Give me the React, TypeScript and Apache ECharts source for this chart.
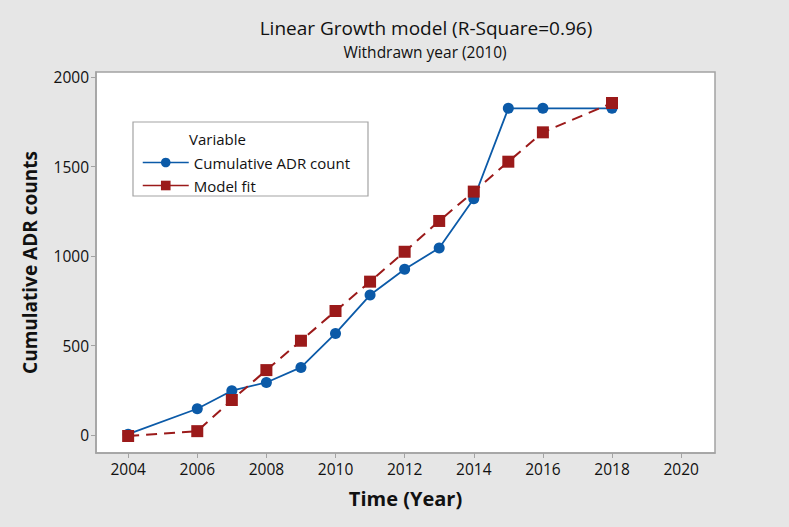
import React, { useEffect, useRef } from "react";
import * as echarts from "echarts";

// Years with observations
const years = [2004, 2006, 2007, 2008, 2009, 2010, 2011, 2012, 2013, 2014, 2015, 2016, 2018];
// Observed cumulative ADR counts
const adrCount = [5, 147, 248, 294, 378, 568, 782, 926, 1045, 1320, 1825, 1825, 1825];
// Linear growth model fit
const modelFit = [-5, 22, 196, 363, 527, 693, 857, 1024, 1196, 1360, 1527, 1691, 1855];

const xTicks = [2004, 2006, 2008, 2010, 2012, 2014, 2016, 2018, 2020];
const yTicks = [0, 500, 1000, 1500, 2000];

const FONT = "'Open Sans', 'Noto Sans', sans-serif";
const BLUE = "#0b5aa8";
const RED = "#9b1a1a";
const AXIS = "#a3a3a3";

export default function App() {
  const ref = useRef<HTMLDivElement>(null);

  useEffect(() => {
    if (!ref.current) return;
    const chart = echarts.init(ref.current, undefined, { renderer: "svg" });
    const pair = (vals: number[]) => years.map((y, i) => [y, vals[i]]);

    chart.setOption({
      animation: false,
      backgroundColor: "#e6e6e6",
      textStyle: { fontFamily: FONT },
      grid: {
        left: 96,
        right: 74,
        top: 72,
        bottom: 74,
        show: true,
        backgroundColor: "#ffffff",
        borderColor: AXIS,
        borderWidth: 1.5,
      },
      graphic: [
        {
          type: "text",
          x: 426,
          y: 28,
          style: {
            text: "Linear Growth model (R-Square=0.96)",
            font: `19px ${FONT}`,
            fill: "#111",
            textAlign: "center",
            textVerticalAlign: "middle",
          },
        },
        {
          type: "text",
          x: 425,
          y: 52,
          style: {
            text: "Withdrawn year (2010)",
            font: `15.5px ${FONT}`,
            fill: "#111",
            textAlign: "center",
            textVerticalAlign: "middle",
          },
        },
        {
          type: "rect",
          z: 3,
          shape: { x: 133, y: 122, width: 235, height: 74 },
          style: { fill: "#ffffff", stroke: AXIS, lineWidth: 1.2 },
        },
        {
          type: "text",
          z: 4,
          x: 189,
          y: 139,
          style: {
            text: "Variable",
            font: `15px ${FONT}`,
            fill: "#111",
            textVerticalAlign: "middle",
          },
        },
      ],
      legend: {
        z: 5,
        orient: "vertical",
        left: 137,
        top: 150,
        itemWidth: 46,
        itemHeight: 12,
        itemGap: 8,
        lineStyle: { type: "solid", width: 1.5 },
        textStyle: { fontSize: 15, color: "#111", fontFamily: FONT },
        data: ["Cumulative ADR count", "Model fit"],
      },
      xAxis: {
        type: "value",
        min: 2003.07,
        max: 2020.98,
        name: "Time (Year)",
        nameLocation: "middle",
        nameGap: 35,
        nameTextStyle: { fontSize: 20, fontWeight: "bold", color: "#111", fontFamily: FONT },
        splitLine: { show: false },
        axisLine: { show: true, onZero: false, lineStyle: { color: AXIS, width: 1.5 } },
        axisTick: { show: true, length: 5, customValues: xTicks, lineStyle: { color: AXIS } },
        axisLabel: {
          customValues: xTicks,
          fontSize: 15.5,
          color: "#111",
          margin: 8,
          formatter: (v: number) => String(v),
        },
      },
      yAxis: {
        type: "value",
        min: -100,
        max: 2028,
        name: "Cumulative ADR counts",
        nameLocation: "middle",
        nameGap: 57,
        nameTextStyle: { fontSize: 19, fontWeight: "bold", color: "#111", fontFamily: FONT },
        splitLine: { show: false },
        axisLine: { show: true, onZero: false, lineStyle: { color: AXIS, width: 1.5 } },
        axisTick: { show: true, length: 5, customValues: yTicks, lineStyle: { color: AXIS } },
        axisLabel: {
          customValues: yTicks,
          fontSize: 15.5,
          color: "#111",
          margin: 7,
          formatter: (v: number) => String(v),
        },
      },
      series: [
        {
          name: "Cumulative ADR count",
          type: "line",
          data: pair(adrCount),
          symbol: "circle",
          symbolSize: 11,
          itemStyle: { color: BLUE },
          lineStyle: { color: BLUE, width: 1.8 },
        },
        {
          name: "Model fit",
          type: "line",
          data: pair(modelFit),
          symbol: "rect",
          symbolSize: 12,
          itemStyle: { color: RED },
          lineStyle: { color: RED, width: 2, type: [11, 7] },
        },
      ],
    });

    return () => chart.dispose();
  }, []);

  return (
    <div
      ref={ref}
      style={{ position: "fixed", left: 0, top: 0, width: 789, height: 527 }}
    />
  );
}
